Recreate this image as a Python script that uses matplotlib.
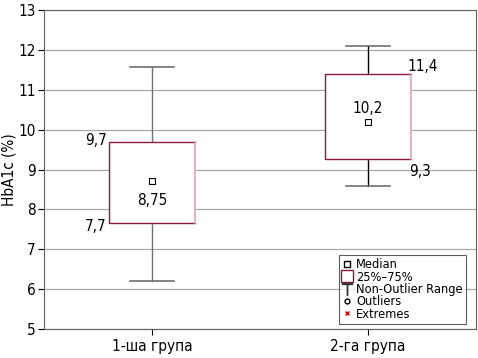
import matplotlib.pyplot as plt
from matplotlib.lines import Line2D

plt.rcParams['font.family'] = ['DejaVu Sans']
plt.rcParams['font.stretch'] = 'condensed'

groups = ['1-ша група', '2-га група']
medians = [8.7, 10.2]
q1 = [7.67, 9.27]
q3 = [9.7, 11.4]
whisk_lo = [6.2, 8.58]
whisk_hi = [11.57, 12.1]
med_labels = ['8,75', '10,2']
q1_labels = ['7,7', '9,3']
q3_labels = ['9,7', '11,4']

box_color = '#8b1a3a'
box_right = '#d4aab4'
whisk_colors = ['#707070', '#000000']
cap_color = '#707070'

fig = plt.figure(figsize=(4.78, 3.58), dpi=100)
ax = fig.add_axes([0.092, 0.081, 0.904, 0.891])

ax.set_xlim(0.5, 2.5)
ax.set_ylim(5, 13)
ax.set_yticks(range(5, 14))
ax.set_xticks([1, 2])
ax.set_xticklabels(groups, fontsize=11)
ax.tick_params(axis='y', labelsize=11, length=4, pad=2)
ax.tick_params(axis='x', length=4, labelsize=11)
ax.yaxis.grid(True, color='#a8a8a8', linewidth=0.9)
ax.set_axisbelow(True)
ax.set_ylabel('HbA1c (%)', fontsize=11, labelpad=1)
for s in ax.spines.values():
    s.set_color('#606060')

w = 0.4
for i in range(2):
    x = i + 1
    xl, xr = x - w / 2, x + w / 2
    ax.plot([x, x], [whisk_lo[i], q1[i]], color=whisk_colors[i], lw=1, zorder=2)
    ax.plot([x, x], [q3[i], whisk_hi[i]], color=whisk_colors[i], lw=1, zorder=2)
    ax.plot([x - 0.1, x + 0.1], [whisk_lo[i]] * 2, color=cap_color, lw=1.2, zorder=2)
    ax.plot([x - 0.1, x + 0.1], [whisk_hi[i]] * 2, color=cap_color, lw=1.2, zorder=2)
    ax.fill_between([xl, xr], q1[i], q3[i], color='white', zorder=3)
    ax.plot([xr, xl, xl, xr], [q3[i], q3[i], q1[i], q1[i]], color=box_color, lw=1, zorder=4)
    ax.plot([xr, xr], [q1[i], q3[i]], color=box_right, lw=1.2, zorder=4)
    ax.plot(x, medians[i], marker='s', ms=4, mfc='white', mec='black', mew=0.8, zorder=5)

# value labels
ax.text(1, medians[0] - 0.28, med_labels[0], ha='center', va='top', fontsize=11, zorder=6)
ax.text(1 - w / 2 - 0.01, q3[0] + 0.03, q3_labels[0], ha='right', va='center', fontsize=11)
ax.text(1 - w / 2 - 0.01, q1[0] - 0.1, q1_labels[0], ha='right', va='center', fontsize=11)
ax.text(2, medians[1] + 0.15, med_labels[1], ha='center', va='bottom', fontsize=11, zorder=6)
ax.text(2 + w / 2 - 0.02, q3[1] + 0.18, q3_labels[1], ha='left', va='center', fontsize=11)
ax.text(2 + w / 2 - 0.01, q1[1] - 0.32, q1_labels[1], ha='left', va='center', fontsize=11)

handles = [
    Line2D([], [], ls='', marker='s', ms=4, mfc='white', mec='black'),
    Line2D([], [], ls='', marker='s', ms=8, mfc='white', mec=box_color),
    Line2D([], [], ls='', marker='$\\top$', ms=8, color='#333333'),
    Line2D([], [], ls='', marker='o', ms=3.5, mfc='white', mec='black'),
    Line2D([], [], ls='', marker='x', ms=3, color='#cc0000'),
]
labels = ['Median', '25%–75%', 'Non-Outlier Range', 'Outliers', 'Extremes']
leg = ax.legend(handles, labels, loc='lower right', bbox_to_anchor=(0.977, 0.016),
                fontsize=9.2, frameon=True, fancybox=False, edgecolor='#333333',
                handlelength=0.8, handletextpad=0.3, labelspacing=-0.05,
                borderpad=0.25, borderaxespad=0)
leg.get_frame().set_linewidth(0.8)

fig.savefig('out.png', dpi=100)
